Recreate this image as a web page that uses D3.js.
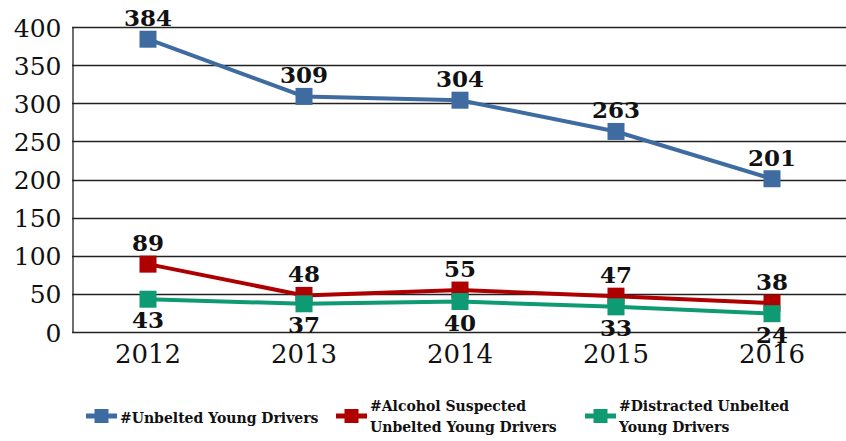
<!DOCTYPE html>
<html>
<head>
<meta charset="utf-8">
<script src="https://cdn.jsdelivr.net/npm/d3@7"></script>
<style>
	body { margin: 0; background: #fff; }
	svg text { font-family: "DejaVu Serif", "Liberation Serif", serif; }
</style>
</head>
<body>
<div id="chart"></div>
<script>
// chart data
var years = ["2012", "2013", "2014", "2015", "2016"];
var unbelted = [384, 309, 304, 263, 201];
var alcohol = [89, 48, 55, 47, 38];
var distracted = [43, 37, 40, 33, 24];
var yTicks = [0, 50, 100, 150, 200, 250, 300, 350, 400];

var series = [
	{ name: ["#Unbelted Young Drivers"], values: unbelted, color: "#3F6CA0", labelPos: "above" },
	{ name: ["#Alcohol Suspected", "Unbelted Young Drivers"], values: alcohol, color: "#AE0000", labelPos: "above" },
	{ name: ["#Distracted Unbelted", "Young Drivers"], values: distracted, color: "#0E9A72", labelPos: "below" }
];

var width = 846;
var height = 441;
var margin = { left: 72, top: 27, bottom: 109 };

var svg = d3.select("#chart").append("svg")
	.attr("width", width)
	.attr("height", height);

var x = d3.scaleBand()
	.domain(years)
	.range([70, 850]);

var y = d3.scaleLinear()
	.domain([0, 400])
	.range([height - margin.bottom, margin.top]);

// gridlines
svg.append("g")
	.selectAll("line")
	.data(yTicks)
	.enter().append("line")
	.attr("x1", margin.left)
	.attr("x2", width)
	.attr("y1", function(d) { return Math.round(y(d)) + 0.5; })
	.attr("y2", function(d) { return Math.round(y(d)) + 0.5; })
	.style("stroke", "#222")
	.style("stroke-width", 1.3);

// y axis
var yAxis = svg.append("g")
	.attr("transform", "translate(" + (margin.left + 0.5) + ",0)")
	.call(d3.axisLeft(y).tickValues(yTicks).tickSize(0).tickPadding(11));
yAxis.select(".domain").style("stroke", "#222").style("stroke-width", 1.3);
yAxis.selectAll("text")
	.style("font-size", "25px")
	.style("fill", "#111")
	.attr("dy", "0.36em");

// x axis
var xAxis = svg.append("g")
	.attr("transform", "translate(0," + (Math.round(y(0)) + 0.5) + ")")
	.call(d3.axisBottom(x).tickSize(0).tickPadding(12));
xAxis.select(".domain").remove();
xAxis.selectAll("text")
	.style("font-size", "26px")
	.style("fill", "#111");

var line = d3.line()
	.x(function(d, i) { return x(years[i]) + x.bandwidth() / 2; })
	.y(function(d) { return y(d); });

var markerSize = 17;

series.forEach(function(s) {
	svg.append("path")
		.datum(s.values)
		.attr("d", line)
		.style("fill", "none")
		.style("stroke", s.color)
		.style("stroke-width", 4);

	svg.append("g")
		.selectAll("rect")
		.data(s.values)
		.enter().append("rect")
		.attr("x", function(d, i) { return x(years[i]) + x.bandwidth() / 2 - markerSize / 2; })
		.attr("y", function(d) { return y(d) - markerSize / 2; })
		.attr("width", markerSize)
		.attr("height", markerSize)
		.style("fill", s.color);

	svg.append("g")
		.selectAll("text")
		.data(s.values)
		.enter().append("text")
		.attr("x", function(d, i) { return x(years[i]) + x.bandwidth() / 2; })
		.attr("y", function(d) { return s.labelPos == "above" ? y(d) - 13 : y(d) + 29; })
		.attr("text-anchor", "middle")
		.style("font-size", "23px")
		.style("font-weight", "bold")
		.style("fill", "#111")
		.text(function(d) { return d; });
});

// legend
var legendX = [86, 336, 585];
var legend = svg.append("g");
series.forEach(function(s, i) {
	var g = legend.append("g").attr("transform", "translate(" + legendX[i] + ",416)");
	g.append("line")
		.attr("x1", 0).attr("x2", 31)
		.attr("y1", 0).attr("y2", 0)
		.style("stroke", s.color)
		.style("stroke-width", 5);
	g.append("rect")
		.attr("x", 15.5 - 7).attr("y", -7)
		.attr("width", 14).attr("height", 14)
		.style("fill", s.color);
	var t = g.append("text")
		.style("font-size", "14px")
		.style("font-weight", "bold")
		.style("fill", "#111");
	var lines = s.name;
	lines.forEach(function(l, j) {
		t.append("tspan")
			.attr("x", 34)
			.attr("y", lines.length == 1 ? 7 : (j == 0 ? -5 : 16))
			.text(l);
	});
});
</script>
</body>
</html>
